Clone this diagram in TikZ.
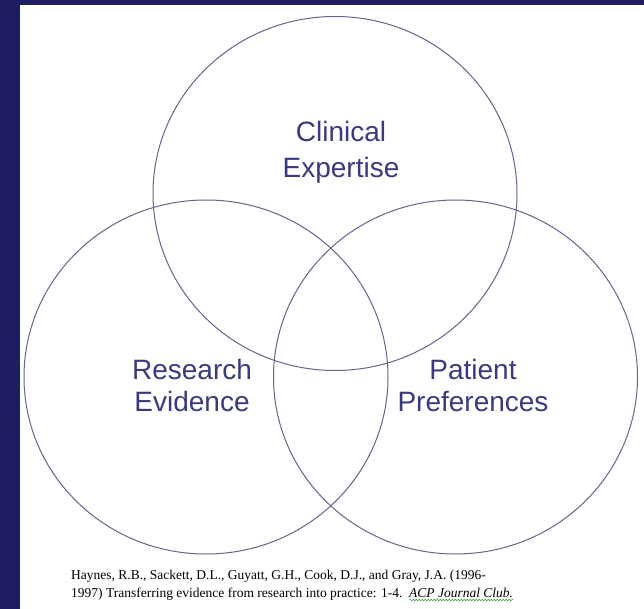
\documentclass[tikz,border=0pt]{standalone}
\usepackage{fontspec}
\setmainfont{Liberation Sans}
\newfontfamily\citefont{Liberation Serif}
\usetikzlibrary{decorations.pathmorphing}
\definecolor{slidebg}{RGB}{31,29,98}
\definecolor{ringcol}{RGB}{100,100,142}
\definecolor{labelcol}{RGB}{58,58,128}
\definecolor{spellcol}{RGB}{60,150,60}
\tikzset{
  ring/.style={draw=ringcol,line width=1pt},
  biglabel/.style={text=labelcol,align=center,inner sep=0pt,anchor=base},
  citeline/.style={anchor=base west,inner sep=0pt,
    font=\citefont\fontsize{13.5}{16}\selectfont}
}

\begin{document}
\begin{tikzpicture}[x=1pt,y=-1pt]
 \fill[slidebg] (0,0) rectangle (644,609);
 \fill[white] (20,5) rectangle (644,609);
 \useasboundingbox (0,0) rectangle (644,609);
 % the three rings
 \draw[ring] (335,193.5) ellipse [x radius=182,y radius=177];
 \draw[ring] (206,377) ellipse [x radius=182,y radius=177];
 \draw[ring] (455.5,377) ellipse [x radius=182,y radius=177];
 % labels sit on the baseline of their last line
 \node[biglabel,font=\fontsize{28}{36}\selectfont] (clinical) at (341,178) {Clinical\\Expertise};
 \node[biglabel,font=\fontsize{28}{32}\selectfont] (research) at (192,411) {Research\\Evidence};
 \node[biglabel,font=\fontsize{28}{32}\selectfont] (patient) at (473,411) {Patient\\Preferences};
 % reference under the rings
 \node[citeline] (cite1) at (71,579) {Haynes, R.B., Sackett, D.L., Guyatt, G.H., Cook, D.J., and Gray, J.A. (1996-};
 \node[citeline] (cite2) at (71,597) {1997) Transferring evidence from research into practice: 1-4.\ \ \textit{ACP Journal Club.}};
 \draw[spellcol,line width=.5pt,decorate,decoration={snake,amplitude=.8pt,segment length=3pt}]
  ([xshift=-104pt,yshift=-3pt]cite2.base east) -- ([yshift=-3pt]cite2.base east);
\end{tikzpicture}
\end{document}
